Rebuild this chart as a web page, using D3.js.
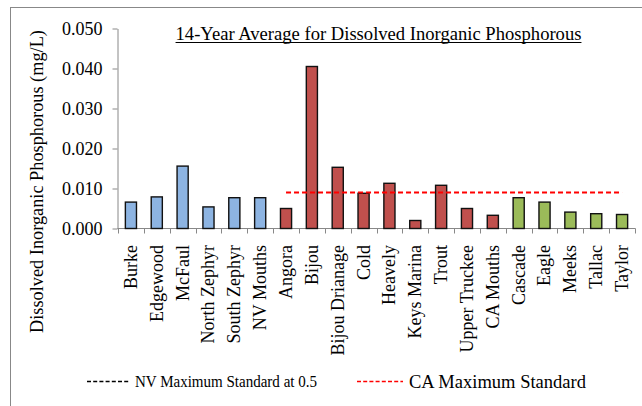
<!DOCTYPE html>
<html><head><meta charset="utf-8">
<script src="https://cdn.jsdelivr.net/npm/d3@7"></script>
<style>body{margin:0;background:#fff}svg{display:block}text{font-family:"Liberation Serif","Times New Roman",serif;fill:#000}</style>
</head><body><svg id="c" width="642" height="406"></svg>
<script>
const categories = ["Burke","Edgewood","McFaul","North Zephyr","South Zephyr","NV Mouths","Angora","Bijou","Bijou Drianage","Cold","Heavely","Keys Marina","Trout","Upper Truckee","CA Mouths","Cascade","Eagle","Meeks","Tallac","Taylor"];
const values = [0.0066,0.0079,0.0156,0.0054,0.0077,0.0077,0.0050,0.0405,0.0153,0.0088,0.0113,0.0020,0.0108,0.0050,0.0033,0.0077,0.0066,0.0041,0.0037,0.0035];
const groups = ["NV","NV","NV","NV","NV","NV","CA","CA","CA","CA","CA","CA","CA","CA","CA","CAW","CAW","CAW","CAW","CAW"];
const groupColors = {NV:"#8DB4E2", CA:"#C0504D", CAW:"#9BBB59"};
const caStandard = 0.009;
const caStart = "Angora", caEnd = "Taylor";
const yTicks = [0,0.01,0.02,0.03,0.04,0.05];
const title = "14-Year Average for Dissolved Inorganic Phosphorous";
const yTitle = "Dissolved Inorganic Phosphorous (mg/L)";
const legendItems = [{label:"NV Maximum Standard at 0.5", color:"#000"},{label:"CA Maximum Standard", color:"#FF0000"}];

const svg = d3.select("#c");
svg.append("rect").attr("x",10.5).attr("y",7.5).attr("width",640).attr("height",410).attr("fill","none").attr("stroke","#888").attr("stroke-width",1);

const x = d3.scaleBand().domain(categories).range([118,635]).paddingInner(0.57).paddingOuter(0.285);
const y = d3.scaleLinear().domain([0,0.05]).range([228.5,28.5]);

// y axis
const ya = svg.append("g").attr("transform","translate(117.5,0)")
  .call(d3.axisLeft(y).tickValues(yTicks).tickFormat(d3.format(".3f")).tickSize(5).tickSizeOuter(0));
ya.select(".domain").attr("stroke","#888");
ya.selectAll(".tick line").attr("stroke","#888");
ya.selectAll("text").attr("font-size",18).attr("x",-15).attr("dy","0.32em");

// x axis
const xa = svg.append("g").attr("transform","translate(0,228.5)")
  .call(d3.axisBottom(x).tickSize(0).tickSizeOuter(0));
xa.select(".domain").attr("stroke","#888").attr("d","M117.5,0H635.5");
xa.selectAll(".tick line").remove();
const tickPos = d3.range(categories.length+1).map(i => x.range()[0] + i*x.step());
xa.selectAll(".xt").data(tickPos).join("line").attr("class","xt")
  .attr("x1",d=>Math.round(d)+0.5).attr("x2",d=>Math.round(d)+0.5).attr("y1",0).attr("y2",5).attr("stroke","#888");
xa.selectAll(".tick text").attr("font-size",18)
  .attr("transform","rotate(-90)").attr("text-anchor","end").attr("x",-16.5).attr("y",0).attr("dy","0.33em");

// bars
svg.append("g").selectAll("rect").data(categories).join("rect")
  .attr("x",d=>x(d)).attr("width",x.bandwidth())
  .attr("y",(d,i)=>y(values[i])).attr("height",(d,i)=>y(0)-y(values[i]))
  .attr("fill",(d,i)=>groupColors[groups[i]]).attr("stroke","#111").attr("stroke-width",1.4);

// CA standard line
svg.append("line")
  .attr("x1",x(caStart)+x.bandwidth()/2).attr("x2",x(caEnd)+x.bandwidth()/2)
  .attr("y1",y(caStandard)).attr("y2",y(caStandard))
  .attr("stroke","#FF0000").attr("stroke-width",2).attr("stroke-dasharray","5,3");

// title
const t = svg.append("text").attr("x",378.5).attr("y",40).attr("text-anchor","middle").attr("font-size",18.6).text(title);
const bb = t.node().getBBox();
svg.append("line").attr("x1",bb.x).attr("x2",bb.x+bb.width).attr("y1",42.5).attr("y2",42.5).attr("stroke","#000").attr("stroke-width",1);

// y title
svg.append("text").attr("transform","translate(43,181.5) rotate(-90)").attr("text-anchor","middle").attr("font-size",18.3).text(yTitle);

// legend
const lg = svg.append("g");
lg.append("line").attr("x1",87).attr("x2",130).attr("y1",381.5).attr("y2",381.5).attr("stroke",legendItems[0].color).attr("stroke-width",1.5).attr("stroke-dasharray","4,2.2");
lg.append("text").attr("x",135).attr("y",387).attr("font-size",17).attr("textLength",182).attr("lengthAdjust","spacingAndGlyphs").text(legendItems[0].label);
lg.append("line").attr("x1",357).attr("x2",403).attr("y1",381.5).attr("y2",381.5).attr("stroke",legendItems[1].color).attr("stroke-width",1.5).attr("stroke-dasharray","4,2.2");
lg.append("text").attr("x",409).attr("y",388).attr("font-size",18.5).attr("textLength",177).attr("lengthAdjust","spacingAndGlyphs").text(legendItems[1].label);
</script></body></html>
